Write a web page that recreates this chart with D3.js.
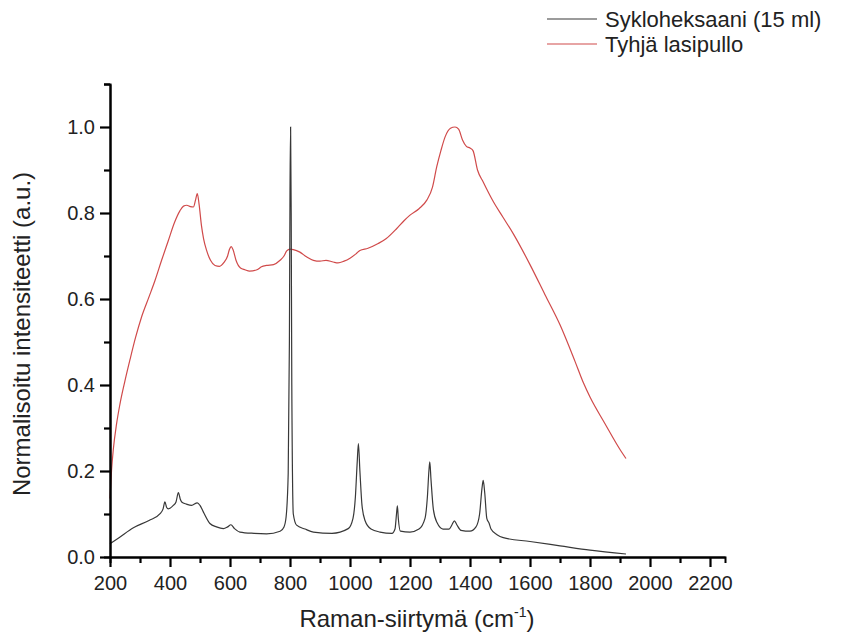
<!DOCTYPE html>
<meta charset="utf-8">
<style>
body { margin: 0; background: #fff; }
text { font-family: Arial, "Liberation Sans", sans-serif; fill: #222; }
.axis text { font-size: 20px; fill: #222; }
</style>
<svg width="849" height="639"></svg>
<script src="https://d3js.org/d3.v7.min.js"></script>
<script>

////////// Data //////////////
// Sykloheksaani (15 ml)
var cycloX = [200, 230, 278, 330, 367, 377, 383, 389, 394, 411, 420, 428, 434, 439, 455, 472, 491, 500, 511, 533,
  555, 578, 592, 603, 615, 633, 680, 722, 767, 780, 787, 794, 798, 800, 802, 804, 806, 811, 822, 850,
  878, 940, 994, 1010, 1018, 1024, 1028, 1033, 1040, 1050, 1070, 1100, 1140, 1150, 1155, 1158, 1161, 1168,
  1200, 1230, 1250, 1258, 1263, 1266, 1270, 1278, 1290, 1310, 1330, 1340, 1348, 1356, 1370, 1400, 1420,
  1432, 1440, 1444, 1449, 1456, 1464, 1470, 1490, 1511, 1600, 1700, 1800, 1920];
var cycloY = [0.031, 0.045, 0.068, 0.085, 0.101, 0.112, 0.128, 0.115, 0.112, 0.12, 0.128, 0.15, 0.135, 0.128, 0.123, 0.12, 0.126, 0.12, 0.105, 0.078,
  0.07, 0.066, 0.07, 0.075, 0.066, 0.058, 0.055, 0.054, 0.06, 0.07, 0.093, 0.194, 0.5, 0.85, 1.0, 0.8, 0.4, 0.1, 0.074, 0.065,
  0.058, 0.055, 0.066, 0.09, 0.14, 0.22, 0.264, 0.2, 0.12, 0.085, 0.065, 0.058, 0.055, 0.065, 0.1, 0.119, 0.09, 0.06,
  0.058, 0.065, 0.09, 0.14, 0.2, 0.221, 0.18, 0.11, 0.08, 0.065, 0.065, 0.075, 0.084, 0.075, 0.062, 0.06, 0.07,
  0.1, 0.16, 0.178, 0.15, 0.09, 0.078, 0.065, 0.052, 0.045, 0.036, 0.026, 0.016, 0.007];

// Tyhjä lasipullo
var vialX = [200, 205, 211, 222, 233, 250, 267, 285, 306, 330, 350, 372, 394, 415, 433, 445, 456, 468, 478, 485,
  491, 497, 505, 512, 522, 535, 550, 565, 580, 592, 598, 604, 610, 620, 635, 650, 665, 690, 705, 722,
  745, 767, 780, 789, 800, 811, 833, 855, 878, 900, 920, 944, 960, 980, 1000, 1020, 1033, 1060, 1094, 1120,
  1156, 1180, 1200, 1230, 1256, 1275, 1289, 1303, 1317, 1335, 1350, 1362, 1375, 1388, 1400, 1410, 1425, 1444,
  1478, 1510, 1544, 1600, 1650, 1700, 1750, 1778, 1800, 1850, 1900, 1920];
var vialY = [0.136, 0.2, 0.25, 0.31, 0.355, 0.41, 0.46, 0.51, 0.56, 0.605, 0.643, 0.69, 0.735, 0.778, 0.805, 0.816, 0.818, 0.815, 0.814, 0.83,
  0.845, 0.82, 0.77, 0.74, 0.713, 0.69, 0.678, 0.676, 0.685, 0.7, 0.715, 0.722, 0.715, 0.69, 0.672, 0.668, 0.665, 0.668, 0.675, 0.678,
  0.68, 0.69, 0.7, 0.712, 0.716, 0.715, 0.709, 0.698, 0.69, 0.688, 0.69, 0.686, 0.684, 0.688, 0.695, 0.705, 0.713, 0.718, 0.729, 0.74,
  0.764, 0.782, 0.795, 0.81, 0.83, 0.86, 0.907, 0.945, 0.977, 0.997, 1.0, 0.995, 0.97, 0.955, 0.951, 0.945, 0.9, 0.872,
  0.826, 0.79, 0.752, 0.68, 0.61, 0.54, 0.455, 0.405, 0.372, 0.31, 0.25, 0.229];

var seriesNames = ["Sykloheksaani (15 ml)", "Tyhjä lasipullo"];
var seriesColors = ["#383838", "#d04a4a"];

var xMajor = [200, 400, 600, 800, 1000, 1200, 1400, 1600, 1800, 2000, 2200];
var xMinor = [300, 500, 700, 900, 1100, 1300, 1500, 1700, 1900, 2100];
var yMajor = [0.0, 0.2, 0.4, 0.6, 0.8, 1.0];
var yMinor = [0.1, 0.3, 0.5, 0.7, 0.9, 1.1];

////////// Scales //////////////
var svg = d3.select("svg");

var x = d3.scaleLinear().domain([200, 2250]).range([110, 725]);
var y = d3.scaleLinear().domain([0, 1.1]).range([557, 84]);

var line = d3.line()
    .x(function(d) { return x(d[0]); })
    .y(function(d) { return y(d[1]); })
    .curve(d3.curveMonotoneX);

var series = [d3.zip(cycloX, cycloY), d3.zip(vialX, vialY)];

// red first so the black peak sits on top
svg.append("path")
    .datum(series[1])
    .attr("fill", "none")
    .attr("stroke", seriesColors[1])
    .attr("stroke-width", 1.2)
    .attr("d", line);

svg.append("path")
    .datum(series[0])
    .attr("fill", "none")
    .attr("stroke", seriesColors[0])
    .attr("stroke-width", 1.2)
    .attr("d", line);

////////// Axes //////////////
function styleAxis(g) {
  g.selectAll("line").attr("stroke", "#000").attr("stroke-width", 2.2);
  g.selectAll(".domain").attr("stroke", "#000").attr("stroke-width", 2);
}

// minor ticks first, then major axes on top
svg.append("g")
    .attr("transform", "translate(0,557)")
    .call(d3.axisBottom(x).tickValues(xMinor).tickSize(6).tickFormat(function() { return ""; }))
    .call(styleAxis);

svg.append("g")
    .attr("transform", "translate(110,0)")
    .call(d3.axisLeft(y).tickValues(yMinor).tickSize(6).tickFormat(function() { return ""; }))
    .call(styleAxis);

svg.append("g")
    .attr("class", "axis")
    .attr("transform", "translate(0,557)")
    .call(d3.axisBottom(x).tickValues(xMajor).tickSize(10).tickPadding(9).tickSizeOuter(0)
      .tickFormat(d3.format("d")))
    .call(styleAxis);

svg.append("g")
    .attr("class", "axis")
    .attr("transform", "translate(110,0)")
    .call(d3.axisLeft(y).tickValues(yMajor).tickSize(10).tickPadding(5).tickSizeOuter(0)
      .tickFormat(d3.format(".1f")))
    .call(styleAxis);

////////// Titles //////////////
var xt = svg.append("text")
    .attr("x", 417)
    .attr("y", 627)
    .attr("text-anchor", "middle")
    .style("font-size", "24px");
xt.append("tspan").text("Raman-siirtymä (cm");
xt.append("tspan").attr("dy", -10).style("font-size", "14px").text("-1");
xt.append("tspan").attr("dy", 10).text(")");

svg.append("text")
    .attr("transform", "translate(30,334) rotate(-90)")
    .attr("text-anchor", "middle")
    .style("font-size", "24px")
    .text("Normalisoitu intensiteetti (a.u.)");

////////// Legend //////////////
var legend = svg.selectAll(".legend")
    .data(seriesNames)
    .enter().append("g")
    .attr("class", "legend")
    .attr("transform", function(d, i) { return "translate(547," + (19 + i * 25) + ")"; });

legend.append("line")
    .attr("x1", 0).attr("x2", 50)
    .attr("stroke", function(d, i) { return seriesColors[i]; })
    .attr("stroke-width", 1.2);

legend.append("text")
    .attr("x", 58)
    .attr("y", 8)
    .style("font-size", "22px")
    .text(function(d) { return d; });

</script>
